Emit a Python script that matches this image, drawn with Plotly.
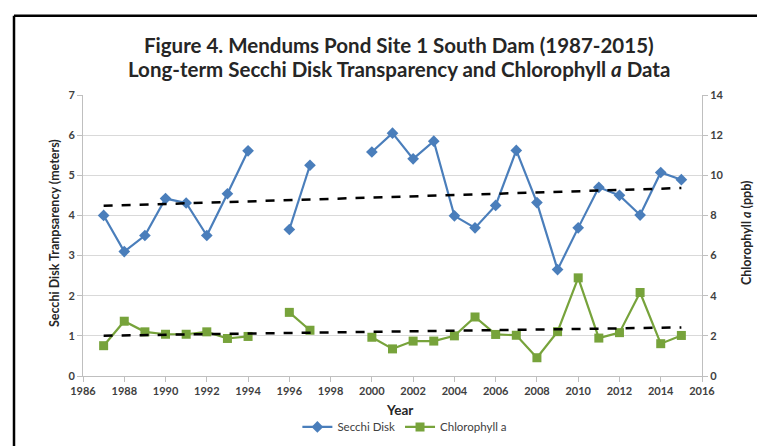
import numpy as np
import plotly.graph_objects as go

years = list(range(1987, 2016))
secchi = [4.0, 3.1, 3.5, 4.42, 4.31, 3.5, 4.54, 5.61, None, 3.65, 5.25, None, None,
          5.58, 6.05, 5.41, 5.85, 3.99, 3.69, 4.25, 5.62, 4.32, 2.65, 3.69, 4.70, 4.50, 4.01, 5.07, 4.89]
chl = [1.51, 2.73, 2.2, 2.08, 2.08, 2.2, 1.87, 1.97, None, 3.17, 2.28, None, None,
       1.93, 1.35, 1.74, 1.74, 2.0, 2.94, 2.07, 2.03, 0.91, 2.21, 4.89, 1.89, 2.16, 4.16, 1.61, 2.02]
x_ticks = list(range(1986, 2017, 2))
y_ticks = list(range(0, 8))
y2_ticks = list(range(0, 15, 2))

BLUE = "#4A7EBB"
GREEN = "#77A33B"
FONT = "Lato"
TXT = "#262626"
TICK = "#404040"


def trend(xs, ys):
    px = [x for x, y in zip(xs, ys) if y is not None]
    py = [y for y in ys if y is not None]
    m, b = np.polyfit(px, py, 1)
    return [xs[0], xs[-1]], [m * xs[0] + b, m * xs[-1] + b]


fig = go.Figure()
fig.add_trace(go.Scatter(x=years, y=secchi, name="Secchi Disk", mode="lines+markers",
                         line=dict(color=BLUE, width=2.2),
                         marker=dict(symbol="diamond", size=9, color=BLUE),
                         connectgaps=False))
tx, ty = trend(years, secchi)
fig.add_trace(go.Scatter(x=tx, y=ty, mode="lines", showlegend=False,
                         line=dict(color="black", width=2.5, dash="dash")))
fig.add_trace(go.Scatter(x=years, y=chl, name="Chlorophyll a", mode="lines+markers", yaxis="y2",
                         line=dict(color=GREEN, width=2.2),
                         marker=dict(symbol="square", size=9, color=GREEN),
                         connectgaps=False))
tx2, ty2 = trend(years, chl)
fig.add_trace(go.Scatter(x=tx2, y=ty2, mode="lines", showlegend=False, yaxis="y2",
                         line=dict(color="black", width=2.5, dash="dash")))

L, R, T, B = 75, 71, 87, 72
W, H = 765, 446
pw, ph = W - L - R, H - T - B

def px2paper_x(p):
    return (p - L) / pw

def px2paper_y(p):
    return (H - B - p) / ph

axis_common = dict(zeroline=False, showline=True, linecolor="#BFBFBF", linewidth=1,
                   ticks="outside", ticklen=5, tickcolor="#BFBFBF",
                   tickfont=dict(size=11, family=FONT, color=TICK))

fig.update_layout(
    width=W, height=H,
    margin=dict(l=L, r=R, t=T, b=B),
    paper_bgcolor="white", plot_bgcolor="white",
    font=dict(family=FONT, color=TXT),
    showlegend=True,
    legend=dict(orientation="h", x=0.52, xanchor="center", y=px2paper_y(426), yanchor="middle",
                font=dict(size=11.5, color=TICK, family=FONT), bgcolor="rgba(0,0,0,0)",
                itemwidth=30, tracegroupgap=0),
    xaxis=dict(range=[1986, 2016], tickvals=x_ticks, ticktext=[f"<b>{v}</b>" for v in x_ticks],
               showgrid=False, **axis_common),
    yaxis=dict(range=[0, 7], tickvals=y_ticks, ticktext=[f"<b>{v}</b>" for v in y_ticks],
               showgrid=True, gridcolor="#D9D9D9", gridwidth=1, **axis_common),
    yaxis2=dict(range=[0, 14], tickvals=y2_ticks, ticktext=[f"<b>{v}</b>" for v in y2_ticks],
                overlaying="y", side="right", showgrid=False, **axis_common),
)

fig.add_annotation(xref="paper", yref="paper", x=px2paper_x(391), y=px2paper_y(36),
                   text="<b>Figure 4. Mendums Pond Site 1 South Dam (1987-2015)</b>",
                   showarrow=False, font=dict(size=20.5, family=FONT, color=TXT),
                   xanchor="center", yanchor="middle")
fig.add_annotation(xref="paper", yref="paper", x=px2paper_x(391), y=px2paper_y(60),
                   text="<b>Long-term Secchi Disk Transparency and Chlorophyll <i>a</i> Data</b>",
                   showarrow=False, font=dict(size=20.5, family=FONT, color=TXT),
                   xanchor="center", yanchor="middle")
fig.add_annotation(xref="paper", yref="paper", x=px2paper_x(391), y=px2paper_y(409),
                   text="<b>Year</b>", showarrow=False,
                   font=dict(size=13.5, family=FONT, color=TXT), xanchor="center", yanchor="middle")
fig.add_annotation(xref="paper", yref="paper", x=px2paper_x(46), y=px2paper_y(228),
                   text="<b>Secchi Disk Tranpsarency (meters)</b>", textangle=-90, showarrow=False,
                   font=dict(size=12.5, family=FONT, color=TXT), xanchor="center", yanchor="middle")
fig.add_annotation(xref="paper", yref="paper", x=px2paper_x(738), y=px2paper_y(228),
                   text="<b>Chlorophyll <i>a</i> (ppb)</b>", textangle=-90, showarrow=False,
                   font=dict(size=12.5, family=FONT, color=TXT), xanchor="center", yanchor="middle")

# outer frame (top & left edges visible in the reference)
bx, by = px2paper_x(6), px2paper_y(6)
fig.add_shape(type="line", xref="paper", yref="paper", x0=bx, y0=px2paper_y(450), x1=bx, y1=by,
              line=dict(color="black", width=2.5))
fig.add_shape(type="line", xref="paper", yref="paper", x0=bx, y0=by, x1=px2paper_x(770), y1=by,
              line=dict(color="black", width=2.5))

fig.write_html("out.html")
